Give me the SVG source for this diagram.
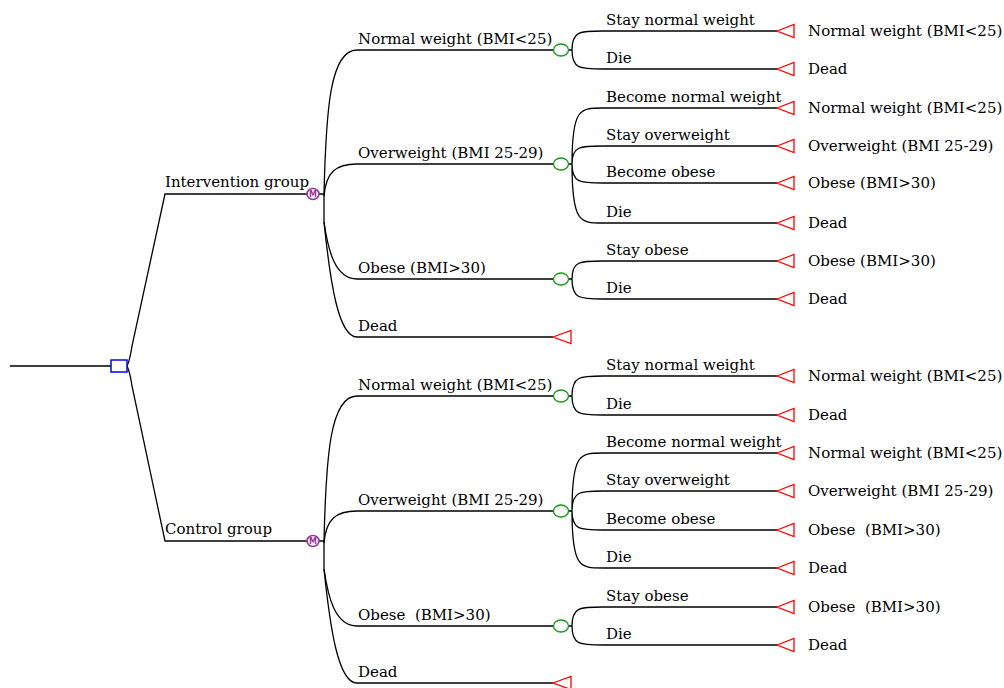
<svg xmlns="http://www.w3.org/2000/svg" width="1004" height="688" viewBox="0 0 1004 688">
<style>
.e{fill:none;stroke:#000;stroke-width:1.3}
.t{font-family:"DejaVu Serif","Liberation Serif",serif;font-size:15px;fill:#000}
.dec{fill:#fff;stroke:#0000ff;stroke-width:1.5}
.mk{fill:#fff;stroke:#993399;stroke-width:1.6}
.mkt{font-family:"DejaVu Sans",sans-serif;font-size:8px;font-weight:bold;fill:#993399;text-anchor:middle}
.ch{fill:#fff;stroke:#119911;stroke-width:1.3}
.tm{fill:#fff;stroke:#ff0000;stroke-width:1.3}
</style>
<rect width="1004" height="688" fill="#fff"/>
<g id="connectors">
<path class="e" d="M10,366 H111"/>
<path class="e" d="M127,366 C130,360 131,352 132,346 L165,194 H307"/>
<path class="e" d="M127,366 C130,372 131,380 132,386 L165,541 H307"/>
<path class="e" d="M319,194 H324 M324,194 C326,110 330,50 357,50 H553"/>
<path class="e" d="M324,196 C326,172 336,164 357,164 H553"/>
<path class="e" d="M324,194 V222 C328,250 335,279 357,279 H553"/>
<path class="e" d="M324,222 C330,280 338,337 357,337 H553"/>
<path class="e" d="M319,541 H324 M324,541 C326,457 330,396 357,396 H553"/>
<path class="e" d="M324,543 C326,519 336,511 357,511 H553"/>
<path class="e" d="M324,541 V569 C328,597 335,626 357,626 H553"/>
<path class="e" d="M324,569 C330,627 338,683 357,683 H553"/>
<path class="e" d="M569,50 H572 M572,50 C572,31 580,31 603,31 H777 M572,50 C572,69 580,69 603,69 H777"/>
<path class="e" d="M569,164 H572 M572,164 C572,108 580,108 603,108 H777 M572,164 C572,146 580,146 603,146 H777 M572,164 C572,183 580,183 603,183 H777 M572,164 C572,223 580,223 603,223 H777"/>
<path class="e" d="M569,279 H572 M572,279 C572,261 580,261 603,261 H777 M572,279 C572,299 580,299 603,299 H777"/>
<path class="e" d="M569,396 H572 M572,396 C572,376 580,376 603,376 H777 M572,396 C572,415 580,415 603,415 H777"/>
<path class="e" d="M569,511 H572 M572,511 C572,453 580,453 603,453 H777 M572,511 C572,491 580,491 603,491 H777 M572,511 C572,530 580,530 603,530 H777 M572,511 C572,568 580,568 603,568 H777"/>
<path class="e" d="M569,626 H572 M572,626 C572,607 580,607 603,607 H777 M572,626 C572,645 580,645 603,645 H777"/>
</g>
<g id="decision"><rect class="dec" x="111" y="360" width="16" height="12"/></g>
<g id="intervention"><text class="t" x="165" y="187">Intervention group</text><ellipse class="mk" cx="313" cy="194" rx="6" ry="5.5"/><text class="mkt" x="313" y="197">M</text></g>
<g id="control"><text class="t" x="165" y="534">Control group</text><ellipse class="mk" cx="313" cy="541" rx="6" ry="5.5"/><text class="mkt" x="313" y="544">M</text></g>
<g id="i-normal"><text class="t" x="358" y="44">Normal weight (BMI&lt;25)</text><ellipse class="ch" cx="561" cy="50" rx="7.5" ry="6"/></g>
<g id="i-over"><text class="t" x="358" y="158">Overweight (BMI 25-29)</text><ellipse class="ch" cx="561" cy="164" rx="7.5" ry="6"/></g>
<g id="i-obese"><text class="t" x="358" y="273">Obese (BMI&gt;30)</text><ellipse class="ch" cx="561" cy="279" rx="7.5" ry="6"/></g>
<g id="i-dead"><text class="t" x="358" y="331">Dead</text><polygon class="tm" points="553,337 571,330.5 571,343.5"/></g>
<g id="c-normal"><text class="t" x="358" y="390">Normal weight (BMI&lt;25)</text><ellipse class="ch" cx="561" cy="396" rx="7.5" ry="6"/></g>
<g id="c-over"><text class="t" x="358" y="505">Overweight (BMI 25-29)</text><ellipse class="ch" cx="561" cy="511" rx="7.5" ry="6"/></g>
<g id="c-obese"><text class="t" x="358" y="620" xml:space="preserve">Obese  (BMI&gt;30)</text><ellipse class="ch" cx="561" cy="626" rx="7.5" ry="6"/></g>
<g id="c-dead"><text class="t" x="358" y="677">Dead</text><polygon class="tm" points="553,683 571,676.5 571,689.5"/></g>
<g id="o1"><text class="t" x="606" y="25">Stay normal weight</text><polygon class="tm" points="777,31 794,24.5 794,37.5"/><text class="t" x="808" y="36">Normal weight (BMI&lt;25)</text></g>
<g id="o2"><text class="t" x="606" y="63">Die</text><polygon class="tm" points="777,69 794,62.5 794,75.5"/><text class="t" x="808" y="74">Dead</text></g>
<g id="o3"><text class="t" x="606" y="102">Become normal weight</text><polygon class="tm" points="777,108 794,101.5 794,114.5"/><text class="t" x="808" y="113">Normal weight (BMI&lt;25)</text></g>
<g id="o4"><text class="t" x="606" y="140">Stay overweight</text><polygon class="tm" points="777,146 794,139.5 794,152.5"/><text class="t" x="808" y="151">Overweight (BMI 25-29)</text></g>
<g id="o5"><text class="t" x="606" y="177">Become obese</text><polygon class="tm" points="777,183 794,176.5 794,189.5"/><text class="t" x="808" y="188">Obese (BMI&gt;30)</text></g>
<g id="o6"><text class="t" x="606" y="217">Die</text><polygon class="tm" points="777,223 794,216.5 794,229.5"/><text class="t" x="808" y="228">Dead</text></g>
<g id="o7"><text class="t" x="606" y="255">Stay obese</text><polygon class="tm" points="777,261 794,254.5 794,267.5"/><text class="t" x="808" y="266">Obese (BMI&gt;30)</text></g>
<g id="o8"><text class="t" x="606" y="293">Die</text><polygon class="tm" points="777,299 794,292.5 794,305.5"/><text class="t" x="808" y="304">Dead</text></g>
<g id="o9"><text class="t" x="606" y="370">Stay normal weight</text><polygon class="tm" points="777,376 794,369.5 794,382.5"/><text class="t" x="808" y="381">Normal weight (BMI&lt;25)</text></g>
<g id="o10"><text class="t" x="606" y="409">Die</text><polygon class="tm" points="777,415 794,408.5 794,421.5"/><text class="t" x="808" y="420">Dead</text></g>
<g id="o11"><text class="t" x="606" y="447">Become normal weight</text><polygon class="tm" points="777,453 794,446.5 794,459.5"/><text class="t" x="808" y="458">Normal weight (BMI&lt;25)</text></g>
<g id="o12"><text class="t" x="606" y="485">Stay overweight</text><polygon class="tm" points="777,491 794,484.5 794,497.5"/><text class="t" x="808" y="496">Overweight (BMI 25-29)</text></g>
<g id="o13"><text class="t" x="606" y="524">Become obese</text><polygon class="tm" points="777,530 794,523.5 794,536.5"/><text class="t" x="808" y="535" xml:space="preserve">Obese  (BMI&gt;30)</text></g>
<g id="o14"><text class="t" x="606" y="562">Die</text><polygon class="tm" points="777,568 794,561.5 794,574.5"/><text class="t" x="808" y="573">Dead</text></g>
<g id="o15"><text class="t" x="606" y="601">Stay obese</text><polygon class="tm" points="777,607 794,600.5 794,613.5"/><text class="t" x="808" y="612" xml:space="preserve">Obese  (BMI&gt;30)</text></g>
<g id="o16"><text class="t" x="606" y="639">Die</text><polygon class="tm" points="777,645 794,638.5 794,651.5"/><text class="t" x="808" y="650">Dead</text></g>
</svg>
